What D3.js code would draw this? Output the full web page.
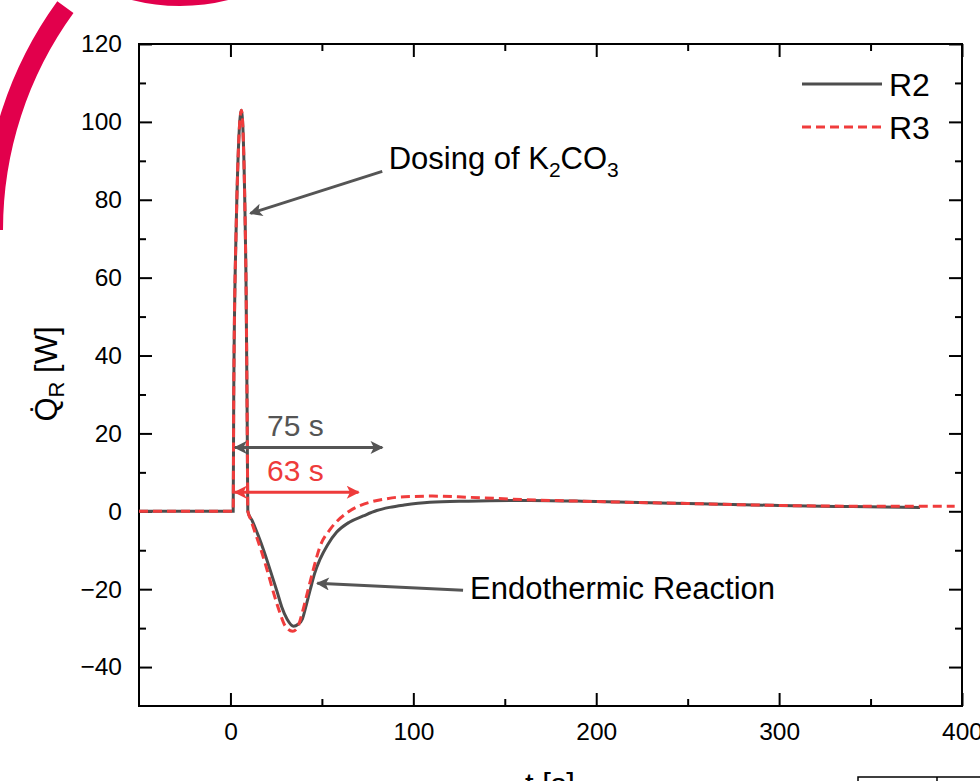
<!DOCTYPE html>
<html>
<head>
<meta charset="utf-8">
<script src="https://cdn.jsdelivr.net/npm/d3@7"></script>
<style>
  body { margin: 0; background: #fff; }
  svg { display: block; font-family: "Liberation Sans", Arial, sans-serif; }
</style>
</head>
<body>
<script>
// time [s] and heat flow [W]
var tR2 = [-50, 1.5, 1.8, 3, 6, 8.5, 9.2, 9.5, 12, 15, 18, 22, 25.6, 28, 31, 34.5, 37, 39.3, 41.5, 43.7, 46, 49, 53, 58, 65, 72.6, 80, 87, 95, 109, 130, 164, 200, 250, 300, 340, 377];
var qR2 = [0, 0, 30, 70, 103, 60, 20, 0, -2.5, -6, -9.8, -15.5, -20.8, -24.5, -27.7, -29.5, -29, -27.7, -24, -20, -16, -12.3, -8.7, -5.4, -2.8, -1.2, 0.2, 1, 1.6, 2.3, 2.6, 2.8, 2.5, 2.0, 1.5, 1.2, 1.0];
var tR3 = [-50, 1.5, 1.8, 3, 6, 8.5, 9.2, 9.5, 11, 13.5, 16.4, 20, 23.5, 27, 30, 34, 36.5, 39.3, 42, 45, 49, 54.6, 64, 70, 76, 84, 91, 100, 110, 130, 160, 200, 250, 300, 350, 396];
var qR3 = [0, 0, 30, 70, 103, 60, 20, 0, -2, -5.5, -9.5, -15, -20.8, -26, -29.5, -30.8, -30, -26, -21, -15.5, -9, -4.6, -0.3, 1.3, 2.3, 3.1, 3.6, 3.8, 3.9, 3.6, 3.0, 2.5, 2.0, 1.5, 1.3, 1.3];
var seriesNames = ["R2", "R3"];
var xTicks = [0, 100, 200, 300, 400];
var xMinor = [50, 150, 250, 350];
var yTicks = [-40, -20, 0, 20, 40, 60, 80, 100, 120];
var yMinor = [-30, -10, 10, 30, 50, 70, 90, 110];

var W = 980, H = 781;
var svg = d3.select("body").append("svg")
  .attr("width", W)
  .attr("height", H);

// decorative crimson arcs in the corner
svg.append("path")
  .attr("transform", "translate(372,230)")
  .attr("d", d3.arc().innerRadius(369).outerRadius(389).startAngle(-Math.PI * 0.3).endAngle(-Math.PI * 0.5)())
  .attr("fill", "#e2004c");
svg.append("circle")
  .attr("cx", 180).attr("cy", -190).attr("r", 188)
  .attr("fill", "none").attr("stroke", "#e2004c").attr("stroke-width", 16);

var x = d3.scaleLinear().domain([-50, 400]).range([139, 962]);
var y = d3.scaleLinear().domain([-50, 120]).range([706, 44]);

var defs = svg.append("defs");
function marker(id, col) {
  defs.append("marker")
    .attr("id", id)
    .attr("viewBox", "0 0 10 10")
    .attr("refX", 9).attr("refY", 5)
    .attr("markerWidth", 22).attr("markerHeight", 13)
    .attr("markerUnits", "userSpaceOnUse")
    .attr("orient", "auto-start-reverse")
    .append("path")
    .attr("d", "M0,0 L10,5 L0,10 L2.5,5 z")
    .attr("fill", col);
}
marker("ahg", "#555555");
marker("ahr", "#ee3b3b");

// axes, ticks pointing inwards
function styleAxis(g) {
  g.select(".domain").remove();
  g.selectAll("line").attr("stroke", "#000").attr("stroke-width", 2);
  g.selectAll("text").attr("font-size", 24.5).attr("fill", "#000").attr("font-family", "Liberation Sans, Arial, sans-serif");
}
svg.append("g").attr("transform", "translate(0,706)")
  .call(d3.axisBottom(x).tickValues(xTicks).tickSize(-13).tickPadding(17)).call(styleAxis);
svg.append("g").attr("transform", "translate(0,706)")
  .call(d3.axisBottom(x).tickValues(xMinor).tickSize(-7).tickFormat("")).call(styleAxis);
svg.append("g").attr("transform", "translate(0,44)")
  .call(d3.axisTop(x).tickValues(xTicks).tickSize(-13).tickFormat("")).call(styleAxis);
svg.append("g").attr("transform", "translate(0,44)")
  .call(d3.axisTop(x).tickValues(xMinor).tickSize(-7).tickFormat("")).call(styleAxis);
svg.append("g").attr("transform", "translate(139,0)")
  .call(d3.axisLeft(y).tickValues(yTicks).tickSize(-13).tickPadding(17)).call(styleAxis);
svg.append("g").attr("transform", "translate(139,0)")
  .call(d3.axisLeft(y).tickValues(yMinor).tickSize(-7).tickFormat("")).call(styleAxis);
svg.append("g").attr("transform", "translate(962,0)")
  .call(d3.axisRight(y).tickValues(yTicks).tickSize(-13).tickFormat("")).call(styleAxis);
svg.append("g").attr("transform", "translate(962,0)")
  .call(d3.axisRight(y).tickValues(yMinor).tickSize(-7).tickFormat("")).call(styleAxis);

svg.append("rect")
  .attr("x", 139).attr("y", 44).attr("width", 962 - 139).attr("height", 706 - 44)
  .attr("fill", "none").attr("stroke", "#000").attr("stroke-width", 2);

// curves
var line = d3.line().x(d => x(d[0])).y(d => y(d[1])).curve(d3.curveMonotoneX);
svg.append("path")
  .datum(d3.zip(tR2, qR2))
  .attr("d", line)
  .attr("fill", "none").attr("stroke", "#4d4d4d").attr("stroke-width", 3);
svg.append("path")
  .datum(d3.zip(tR3, qR3))
  .attr("d", line)
  .attr("fill", "none").attr("stroke", "#f03c3c").attr("stroke-width", 3)
  .attr("stroke-dasharray", "9,5");

// annotations
function arrow(x1, y1, x2, y2, col, id, both) {
  var l = svg.append("line")
    .attr("x1", x(x1)).attr("y1", y(y1)).attr("x2", x(x2)).attr("y2", y(y2))
    .attr("stroke", col).attr("stroke-width", 3)
    .attr("marker-end", "url(#" + id + ")");
  if (both) l.attr("marker-start", "url(#" + id + ")");
}
arrow(83, 87.3, 10.9, 76.5, "#555555", "ahg", false);
arrow(127.2, -20.3, 47.5, -18.5, "#555555", "ahg", false);
arrow(2.5, 16.4, 83, 16.4, "#555555", "ahg", true);
arrow(2.5, 4.9, 70, 4.9, "#ee3b3b", "ahr", true);

svg.append("text").attr("x", x(35.5)).attr("y", y(19.3))
  .attr("text-anchor", "middle").attr("font-size", 30).attr("fill", "#555555").text("75 s");
svg.append("text").attr("x", x(35.5)).attr("y", y(7.7))
  .attr("text-anchor", "middle").attr("font-size", 30).attr("fill", "#ee3b3b").text("63 s");

var dos = svg.append("text").attr("x", x(86.5)).attr("y", y(87.8))
  .attr("font-size", 31).attr("fill", "#000");
dos.append("tspan").text("Dosing of K");
dos.append("tspan").attr("dy", 8).attr("font-size", 21).text("2");
dos.append("tspan").attr("dy", -8).text("CO");
dos.append("tspan").attr("dy", 8).attr("font-size", 21).text("3");

svg.append("text").attr("x", x(131)).attr("y", y(-22.6))
  .attr("font-size", 31).attr("fill", "#000").text("Endothermic Reaction");

// legend
var leg = [{ y: 84, col: "#4d4d4d", dash: null }, { y: 127, col: "#f03c3c", dash: "9,5" }];
leg.forEach(function (d, i) {
  svg.append("line").attr("x1", 802).attr("x2", 882).attr("y1", d.y).attr("y2", d.y)
    .attr("stroke", d.col).attr("stroke-width", 3).attr("stroke-dasharray", d.dash);
  svg.append("text").attr("x", 889).attr("y", d.y + 12)
    .attr("font-size", 32).attr("fill", "#000").text(seriesNames[i]);
});

// axis titles
var yl = svg.append("text")
  .attr("transform", "translate(57,374) rotate(-90)")
  .attr("text-anchor", "middle").attr("font-size", 31).attr("fill", "#000");
yl.append("tspan").text("Q\u0307");
yl.append("tspan").attr("dy", 7).attr("font-size", 22).text("R");
yl.append("tspan").attr("dy", -7).text(" [W]");

svg.append("text").attr("x", 550).attr("y", 795)
  .attr("text-anchor", "middle").attr("font-size", 31).attr("fill", "#000").text("t [s]");

// small box cut off at the bottom right
svg.append("rect").attr("x", 858).attr("y", 777).attr("width", 140).attr("height", 30)
  .attr("fill", "none").attr("stroke", "#000").attr("stroke-width", 1.5);
svg.append("line").attr("x1", 937).attr("x2", 937).attr("y1", 777).attr("y2", 781)
  .attr("stroke", "#000").attr("stroke-width", 1.5);
</script>
</body>
</html>
